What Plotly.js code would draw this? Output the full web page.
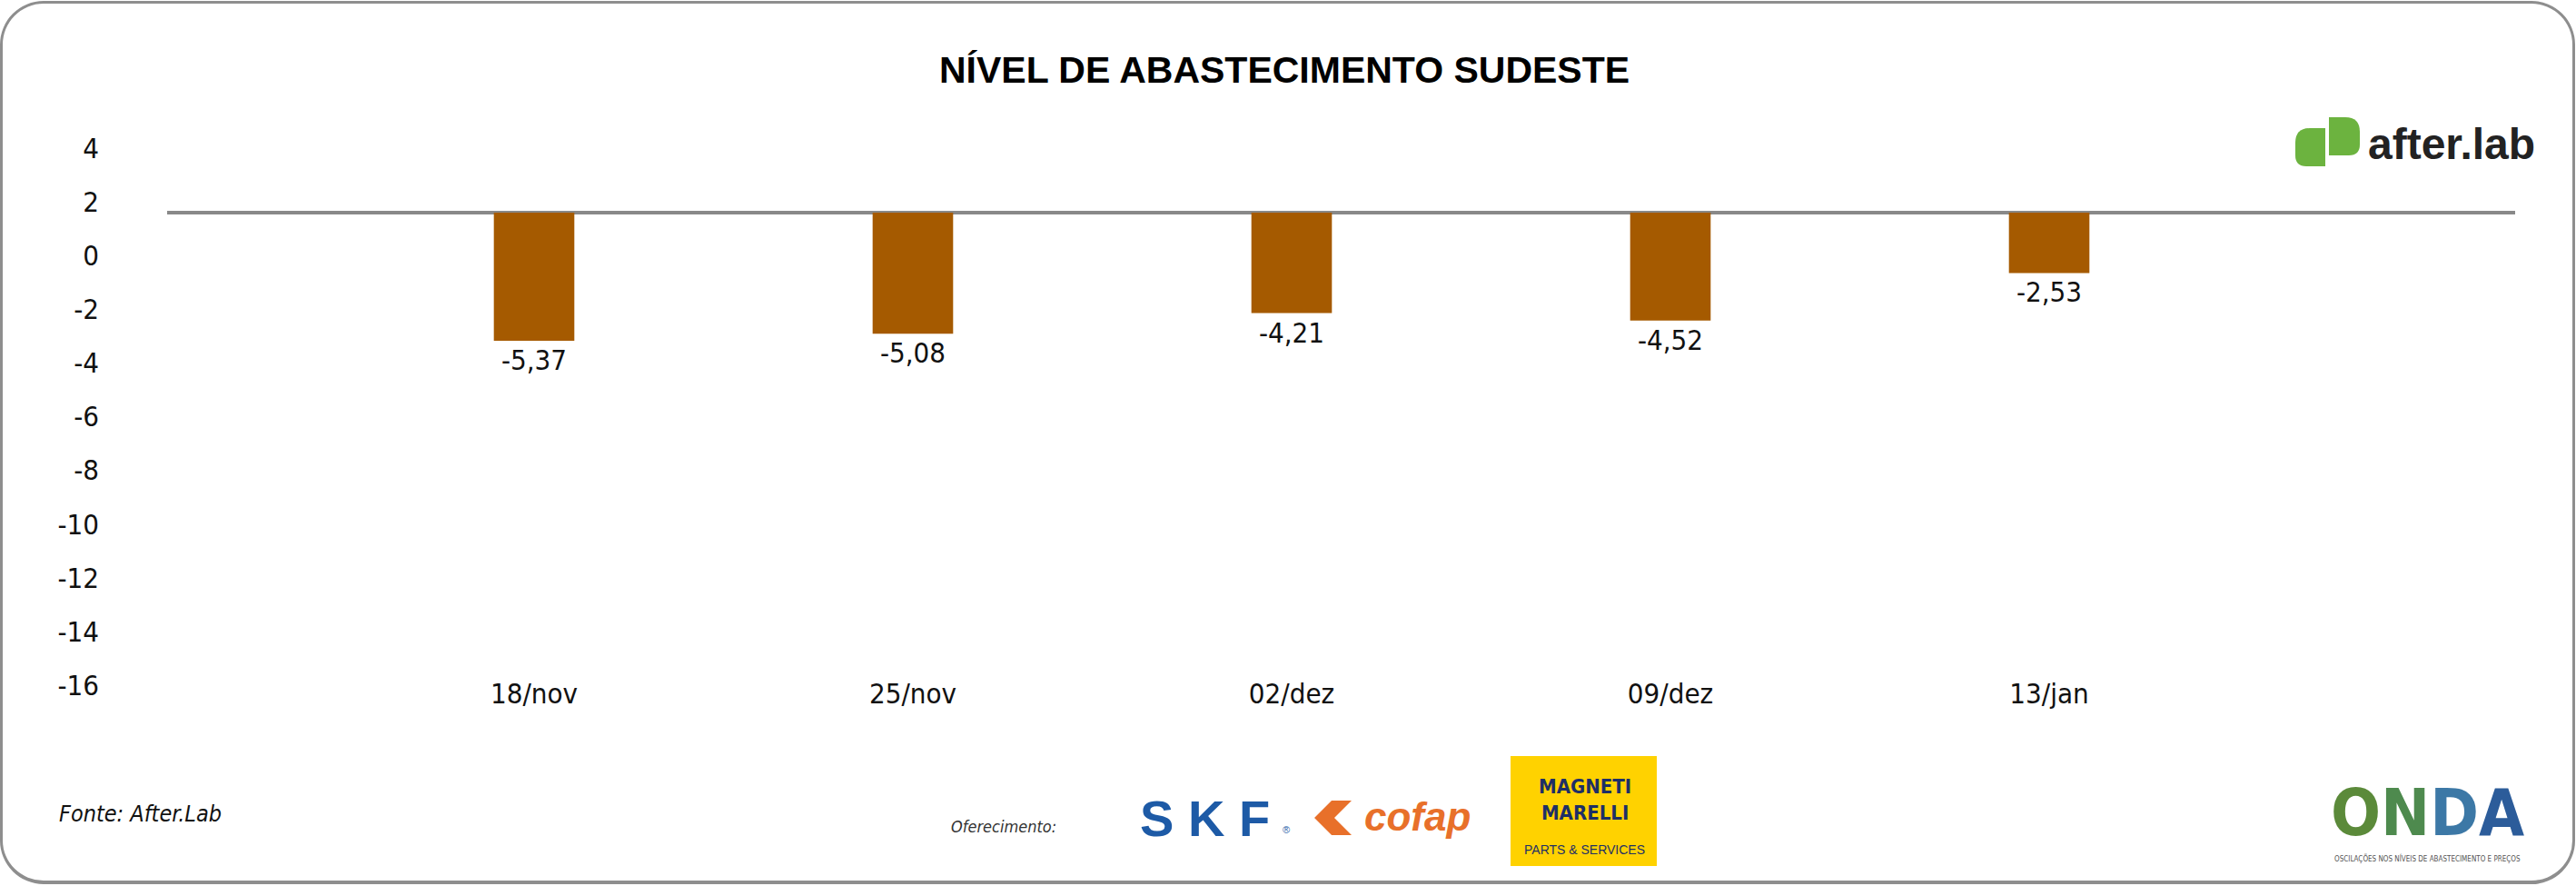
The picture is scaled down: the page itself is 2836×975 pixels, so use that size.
<!DOCTYPE html>
<html>
<head>
<meta charset="utf-8">
<script src="https://cdn.plot.ly/plotly-3.0.1.min.js"></script>
<style>
  html, body { margin: 0; padding: 0; background: #ffffff; }
  #wrap { position: relative; width: 2836px; height: 975px; overflow: hidden; }
  #chart { position: absolute; left: 0; top: 0; width: 2836px; height: 975px; }
  #frame { position: absolute; left: 0; top: 1px; width: 2835px; height: 972px; box-sizing: border-box;
           border: 3px solid #8e8e8e; border-bottom-width: 4px; border-radius: 48px; pointer-events: none; }
</style>
</head>
<body>
<div id="wrap">
  <div id="chart"></div>
  <div id="frame"></div>
</div>
<script>
// ---- data ----
const categories = ["18/nov", "25/nov", "02/dez", "09/dez", "13/jan"];
const values = [-5.37, -5.08, -4.21, -4.52, -2.53];
const yTickValues = [4, 2, 0, -2, -4, -6, -8, -10, -12, -14, -16];
const titleText = "NÍVEL DE ABASTECIMENTO SUDESTE";
const sourceText = "Fonte: After.Lab";
const sponsorText = "Oferecimento:";

// ---- layout geometry (pixels) ----
const W = 2836, H = 975;
const L = 184, R = 2769, T = 163, B = 754;
const PW = R - L, PH = B - T;
const px = v => (v - L) / PW;
const py = v => (B - v) / PH;

const numFont = "'Liberation Sans Narrow', 'DejaVu Sans Condensed', 'Roboto Condensed', 'DejaVu Sans', sans-serif";
const labels = values.map(v => (v < 0 ? "-" : "") + Math.abs(v).toFixed(2).replace(".", ","));

function roundRect(x0, y0, x1, y1, rtl, rtr, rbr, rbl) {
  const P = (x, y) => px(x).toFixed(5) + "," + py(y).toFixed(5);
  return "M" + P(x0 + rtl, y0) +
    " L" + P(x1 - rtr, y0) + " Q" + P(x1, y0) + " " + P(x1, y0 + rtr) +
    " L" + P(x1, y1 - rbr) + " Q" + P(x1, y1) + " " + P(x1 - rbr, y1) +
    " L" + P(x0 + rbl, y1) + " Q" + P(x0, y1) + " " + P(x0, y1 - rbl) +
    " L" + P(x0, y0 + rtl) + " Q" + P(x0, y0) + " " + P(x0 + rtl, y0) + " Z";
}
function poly(pts) {
  return "M" + pts.map(p => px(p[0]).toFixed(5) + "," + py(p[1]).toFixed(5)).join(" L") + " Z";
}

const barTrace = {
  type: "bar",
  x: categories,
  y: values,
  yaxis: "y2",
  width: 0.2125,
  marker: { color: "#A55A00", line: { width: 0 } },
  text: labels,
  textposition: "outside",
  constraintext: "none",
  cliponaxis: false,
  textfont: { family: numFont, size: 31, color: "#111111" },
  hoverinfo: "x+y"
};
// empty trace so the labelled y axis (y) gets drawn
const axisTrace = { type: "scatter", mode: "markers", x: [], y: [], yaxis: "y", hoverinfo: "skip", showlegend: false };

const shapes = [
  // after.lab icon
  { type: "path", xref: "paper", yref: "paper", path: roundRect(2527, 141, 2560, 183, 16, 0, 0, 12), fillcolor: "#6CB33F", line: { width: 0 }, layer: "above" },
  { type: "path", xref: "paper", yref: "paper", path: roundRect(2564, 129, 2598, 171, 0, 16, 12, 0), fillcolor: "#6CB33F", line: { width: 0 }, layer: "above" },
  // cofap icon
  { type: "path", xref: "paper", yref: "paper", path: poly([[1447, 900], [1466, 881], [1488, 881], [1469, 900], [1488, 919], [1466, 919]]), fillcolor: "#E8702A", line: { width: 0 } },
  // Magneti Marelli box
  { type: "rect", xref: "paper", yref: "paper", x0: px(1663), x1: px(1824), y0: py(953), y1: py(832), fillcolor: "#FFD200", line: { width: 0 } }
];

const ann = (text, x, y, opts) => Object.assign({
  text: text, xref: "paper", yref: "paper", x: px(x), y: py(y), showarrow: false,
  xanchor: "center", yanchor: "middle"
}, opts);

const annotations = [
  ann(sourceText, 63, 895, { xanchor: "left", font: { family: numFont, size: 25, color: "#111", style: "italic" } }),
  ann(sponsorText, 1045, 910, { xanchor: "left", font: { family: numFont, size: 18, color: "#333", style: "italic" } }),
  ann("<b>S K F</b>", 1326, 900, { font: { family: "'Liberation Sans', Arial, sans-serif", size: 56, color: "#1D5AA6" } }),
  ann("®", 1416, 913, { font: { family: "'Liberation Sans', Arial, sans-serif", size: 11, color: "#1D5AA6" } }),
  ann("<b><i>cofap</i></b>", 1560, 898, { font: { family: "'Liberation Sans', Arial, sans-serif", size: 44, color: "#E8702A" } }),
  ann("<b>MAGNETI<br>MARELLI</b>", 1745, 880, { font: { family: numFont, size: 22, color: "#1E2F66" } }),
  ann("PARTS &amp; SERVICES", 1745, 935, { font: { family: "'Liberation Sans', Arial, sans-serif", size: 14, color: "#1E2F66" } }),
  ann("<b><span style='color:#5B8A3A'>O</span><span style='color:#4E8A4E'>N</span><span style='color:#3C78A6'>D</span><span style='color:#2C5C9A'>A</span></b>", 2672, 894, { font: { family: numFont, size: 72, color: "#3C78A6" } }),
  ann("OSCILAÇÕES NOS NÍVEIS DE ABASTECIMENTO E PREÇOS", 2672, 945, { font: { family: numFont, size: 8, color: "#555" } }),
  ann("<b>after.lab</b>", 2605, 159, { xanchor: "left", font: { family: "'Liberation Sans', Arial, sans-serif", size: 48, color: "#222222" } })
];

const layout = {
  width: W, height: H, autosize: false,
  margin: { l: L, r: W - R, t: T, b: H - B, pad: 0 },
  paper_bgcolor: "rgba(0,0,0,0)",
  plot_bgcolor: "rgba(0,0,0,0)",
  showlegend: false,
  title: {
    text: "<b>" + titleText + "</b>",
    xref: "container", yref: "container", x: 0.4986, y: 1 - 77 / H,
    xanchor: "center", yanchor: "middle",
    font: { family: "'Liberation Sans', Arial, sans-serif", size: 41, color: "#000000" }
  },
  xaxis: {
    type: "category",
    categoryorder: "array", categoryarray: categories,
    range: [(L - 588) / 417, (R - 588) / 417],
    showgrid: false, zeroline: false, showline: false, ticks: "",
    ticklabelstandoff: -12,
    tickfont: { family: numFont, size: 31, color: "#111111" },
    automargin: false, fixedrange: true
  },
  yaxis: {
    range: [-16, 4],
    tickmode: "array", tickvals: yTickValues, ticktext: yTickValues.map(v => (v < 0 ? "-" : "") + Math.abs(v)),
    showgrid: false, zeroline: false, showline: false, ticks: "",
    ticklabelstandoff: 74,
    tickfont: { family: numFont, size: 31, color: "#111111" },
    automargin: false, fixedrange: true
  },
  yaxis2: {
    overlaying: "y", side: "left",
    range: [-(B - 234) / 26.25, (234 - T) / 26.25],
    showgrid: false, showline: false, showticklabels: false, ticks: "",
    zeroline: true, zerolinecolor: "#898989", zerolinewidth: 4,
    automargin: false, fixedrange: true
  },
  shapes: shapes,
  annotations: annotations
};

Plotly.newPlot("chart", [barTrace, axisTrace], layout, { displayModeBar: false, staticPlot: true });
</script>
</body>
</html>
